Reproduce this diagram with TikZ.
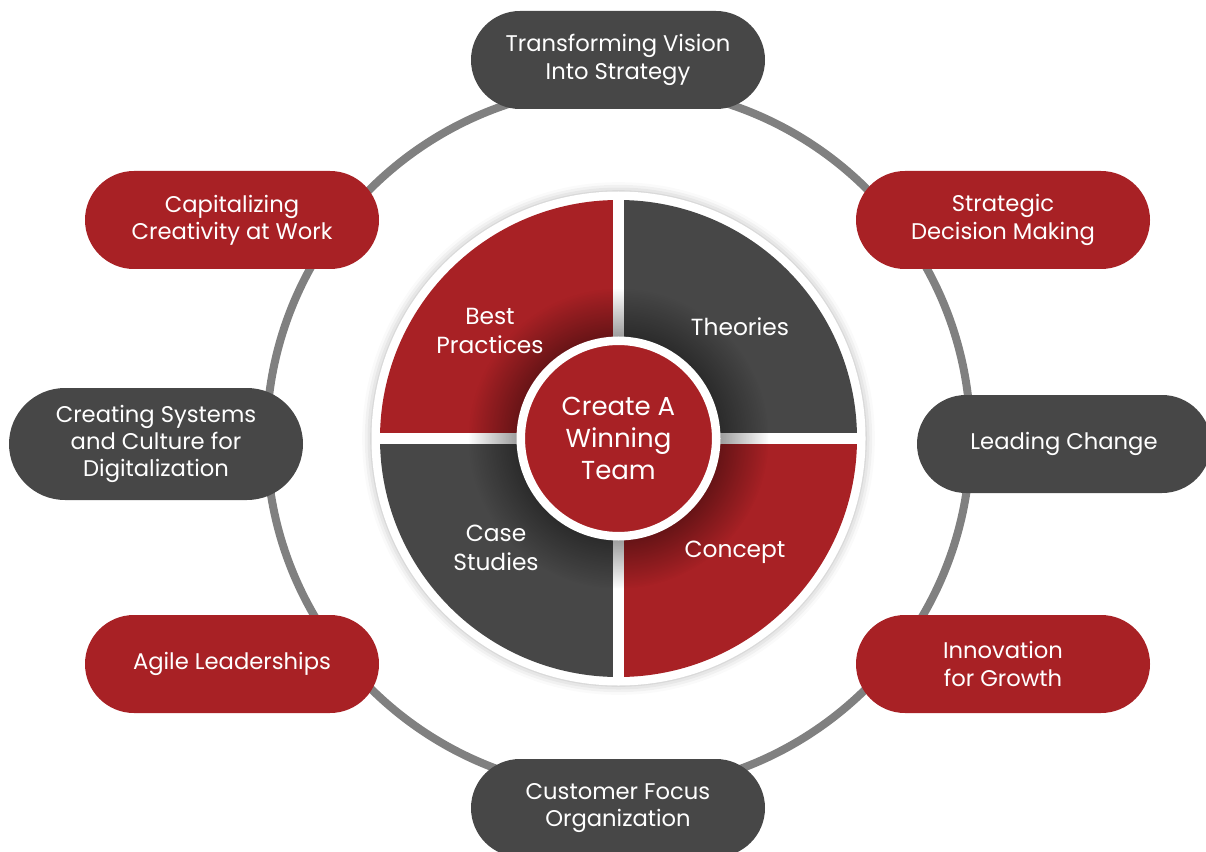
\documentclass[tikz,border=0pt]{standalone}
\usepackage{fontspec}
\setmainfont{Poppins}
\usetikzlibrary{shapes.misc,shadows.blur,fadings}
\definecolor{wred}{RGB}{168,33,37}
\definecolor{wgray}{RGB}{71,71,71}
\definecolor{ringgray}{RGB}{128,128,128}
\pgfdeclareradialshading{hubglow}{\pgfpointorigin}{color(0bp)=(white); color(15bp)=(white); color(16bp)=(white!50!black); color(25bp)=(black); color(50bp)=(black)}
\pgfdeclarefading{hubfade}{\pgfuseshading{hubglow}}

\begin{document}
\begin{tikzpicture}[
        x=0.75pt, y=-0.75pt,
        pill/.style={rounded rectangle, minimum width=220.5pt, minimum height=73.5pt, inner sep=0pt, text=white, align=center, font=\fontsize{17}{20.5}\selectfont},
        redpill/.style={pill, fill=wred},
        graypill/.style={pill, fill=wgray},
        part/.style={text=white, align=center, font=\fontsize{17.5}{21.5}\selectfont},
        hub/.style={circle, draw=white, line width=6.4pt, fill=wred, minimum size=146.6pt, text=white, align=center, font=\fontsize{19.5}{24}\selectfont},
        ]

        \useasboundingbox (0,0) rectangle (1206,852);
        \clip (0,0) rectangle (1206,852);
        \coordinate (c) at (618.5,438.5);

        % ring behind the pills
        \draw[ringgray, line width=6pt] (c) circle (352);

        % pie
        \fill[white, blur shadow={shadow xshift=0pt, shadow yshift=0pt, shadow blur radius=7pt, shadow opacity=30}] (c) circle (247);
        \foreach \a/\col in {0/wred, 90/wgray, 180/wred, 270/wgray} {
          \fill[\col] (c) -- ++(\a:238.5) arc[start angle=\a, end angle=\a+90, radius=238.5] -- cycle;
        }
        \draw[white, line width=8.25pt] (c) +(-240,0) -- +(240,0);
        \draw[white, line width=8.25pt] (c) +(0,-240) -- +(0,240);
        \fill[black, path fading=hubfade, fill opacity=.85] (c) circle (150);

        \node(best)[part] at (490,331) {Best\\Practices};
        \node(theories)[part] at (740,327) {Theories};
        \node(cases)[part] at (496,548) {Case\\Studies};
        \node(concept)[part] at (735,552) {Concept};
        \node(team)[hub] at (c) {Create A\\Winning\\Team};

        % pills round the ring
        \node(vision)[graypill] at (618,60) {Transforming Vision\\Into Strategy};
        \node(decision)[redpill] at (1003,220) {Strategic\\Decision Making};
        \node(change)[graypill] at (1064,444) {Leading Change};
        \node(growth)[redpill] at (1003,664) {Innovation\\for Growth};
        \node(customer)[graypill] at (618,808) {Customer Focus\\Organization};
        \node(agile)[redpill] at (232,664) {Agile Leaderships};
        \node(digital)[graypill, minimum height=84pt] at (156,444) {Creating Systems\\and Culture for\\Digitalization};
        \node(creative)[redpill] at (232,220) {Capitalizing\\Creativity at Work};

      \end{tikzpicture}
\end{document}
